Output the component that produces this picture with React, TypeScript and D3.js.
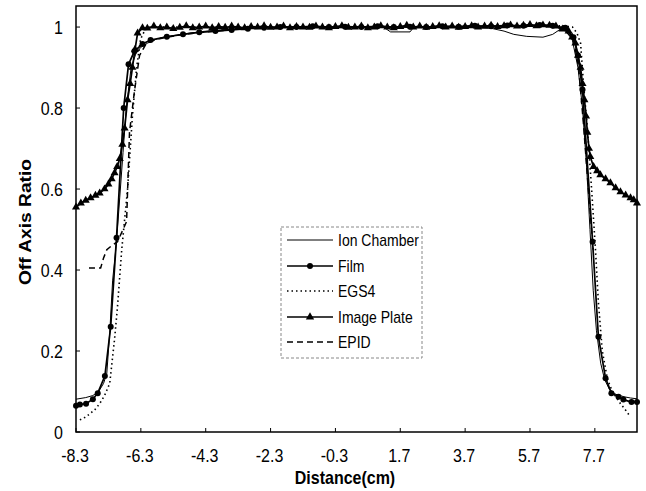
import React from 'react'
import * as d3 from 'd3'

// distance (cm) and off axis ratio for each detector
const ionX = [-8.3, -8.0, -7.78, -7.6, -7.45, -7.35, -7.26, -7.17, -7.05, -6.95, -6.85, -6.75, -6.6, -6.45, -6.3, -6.1, -5.9, -5.6, -5.2, -4.8, -4.4, -4.0, -3.6, -3.2, -2.8, -2.4, -2.0, -1.6, -1.2, -0.8, -0.4, 0.0, 0.4, 0.8, 1.2, 1.4, 2.0, 2.1, 2.5, 2.9, 3.3, 3.7, 4.1, 4.5, 4.9, 5.2, 5.6, 6.1, 6.4, 6.64, 6.8, 7.0, 7.18, 7.32, 7.45, 7.55, 7.65, 7.75, 7.88, 8.0, 8.15, 8.35, 8.6, 8.8, 9.0]
const ionY = [0.081, 0.085, 0.09, 0.1, 0.12, 0.145, 0.245, 0.375, 0.47, 0.58, 0.69, 0.8, 0.9, 0.935, 0.95, 0.96, 0.968, 0.975, 0.98, 0.985, 0.989, 0.992, 0.994, 0.996, 0.998, 0.999, 1.0, 1.0, 0.999, 1.0, 1.0, 0.998, 1.0, 1.0, 0.999, 0.988, 0.988, 0.998, 1.0, 0.999, 1.0, 1.0, 0.998, 0.997, 0.99, 0.982, 0.977, 0.975, 0.982, 0.995, 0.99, 0.97, 0.9, 0.8, 0.65, 0.5, 0.35, 0.25, 0.17, 0.13, 0.105, 0.093, 0.087, 0.084, 0.082]

const filmX = [-8.3, -8.18, -7.99, -7.78, -7.63, -7.41, -7.23, -7.05, -6.83, -6.68, -6.5, -6.25, -6.0, -5.5, -5.0, -4.5, -4.0, -3.5, -3.0, -2.5, -2.0, -1.5, -1.0, -0.5, 0, 0.5, 1.0, 1.5, 2.0, 2.5, 3.0, 3.5, 4.0, 4.5, 5.0, 5.5, 6.0, 6.4, 6.79, 7.04, 7.18, 7.32, 7.63, 7.81, 8.03, 8.21, 8.43, 8.58, 8.83, 9.0]
const filmY = [0.065, 0.068, 0.07, 0.081, 0.096, 0.138, 0.26, 0.48, 0.8, 0.908, 0.94, 0.958, 0.968, 0.976, 0.982, 0.987, 0.99, 0.993, 0.996, 0.998, 1.0, 1.0, 1.002, 1.0, 1.001, 1.0, 1.002, 1.0, 1.001, 1.0, 1.002, 1.001, 1.003, 1.002, 1.004, 1.003, 1.005, 1.003, 0.998, 0.975, 0.93, 0.845, 0.47, 0.235, 0.133, 0.096, 0.087, 0.08, 0.074, 0.074]

const egsX = [-8.18, -8.0, -7.87, -7.72, -7.57, -7.42, -7.26, -7.11, -7.02, -6.89, -6.71, -6.56, -6.43, -6.31, -6.16, -6.0, -5.0, -4.0, -3.0, -2.0, -1.0, 0, 1.0, 2.0, 3.0, 4.0, 5.0, 6.0, 6.7, 7.01, 7.15, 7.26, 7.35, 7.47, 7.6, 7.72, 7.81, 7.93, 8.09, 8.24, 8.49, 8.64, 8.8]
const egsY = [0.03, 0.037, 0.045, 0.055, 0.07, 0.09, 0.12, 0.23, 0.31, 0.45, 0.6, 0.78, 0.9, 0.97, 0.995, 1.0, 1.0, 1.0, 1.0, 1.0, 1.0, 1.0, 1.0, 1.0, 1.0, 1.0, 1.002, 1.003, 1.003, 1.0, 0.985, 0.96, 0.86, 0.75, 0.6, 0.45, 0.32, 0.2, 0.13, 0.1, 0.07, 0.055, 0.037]

const plateX = [-8.3, -8.15, -8.0, -7.85, -7.7, -7.57, -7.42, -7.3, -7.2, -7.11, -7.03, -6.95, -6.87, -6.8, -6.71, -6.63, -6.56, -6.48, -6.4, -6.25,
  -6.1, -5.9, -5.7, -5.5, -5.3, -5.1, -4.9, -4.7, -4.5, -4.3, -4.1, -3.9, -3.7, -3.5, -3.3, -3.1, -2.9, -2.7, -2.5, -2.3, -2.1, -1.9, -1.7, -1.5, -1.3, -1.1, -0.9, -0.7, -0.5, -0.3, -0.1,
  0.1, 0.3, 0.5, 0.7, 0.9, 1.1, 1.3, 1.5, 1.7, 1.9, 2.1, 2.3, 2.5, 2.7, 2.9, 3.1, 3.3, 3.5, 3.7, 3.9, 4.1, 4.3, 4.5, 4.7, 4.9, 5.1, 5.3, 5.5, 5.7, 5.9, 6.1, 6.3, 6.5, 6.7,
  6.89, 7.0, 7.1, 7.18, 7.26, 7.32, 7.38, 7.43, 7.47, 7.52, 7.56, 7.66, 7.77, 7.87, 8.03, 8.18, 8.34, 8.49, 8.65, 8.8, 8.9, 9.0]
const plateY = [0.555, 0.565, 0.572, 0.578, 0.584, 0.59, 0.6, 0.612, 0.625, 0.64, 0.655, 0.675, 0.71, 0.75, 0.82, 0.86, 0.9, 0.945, 0.985, 0.998,
  0.997, 1.002, 0.998, 1.0, 0.996, 0.999, 1.003, 0.998, 1.0, 1.002, 0.998, 1.001, 0.999, 1.002, 1.0, 0.998, 1.001, 1.0, 1.003, 0.999, 1.0, 1.002, 0.998, 1.001, 1.0, 0.999, 1.002, 1.0, 0.998, 1.001, 1.003,
  0.999, 1.0, 1.002, 0.998, 1.0, 1.003, 1.0, 0.998, 1.001, 1.004, 1.0, 1.002, 0.999, 1.001, 1.003, 1.0, 1.002, 0.999, 1.001, 1.003, 1.0, 1.002, 1.004, 1.001, 1.003, 1.005, 1.002, 1.004, 1.006, 1.003, 1.005, 1.004, 1.002, 0.995,
  0.99, 0.975, 0.96, 0.93, 0.9, 0.86, 0.82, 0.78, 0.74, 0.7, 0.68, 0.655, 0.645, 0.635, 0.625, 0.615, 0.603, 0.593, 0.585, 0.578, 0.573, 0.565]

const epidX = [-7.9, -7.54, -7.45, -7.35, -7.2, -7.02, -6.85, -6.74, -6.65, -6.5, -6.34, -6.13, -5.8, -5.0, -4.0, -3.0, -2.0, -1.0, 0, 1.0, 2.0, 3.0, 4.0, 5.0, 6.0, 6.5, 6.8, 7.04, 7.2, 7.35, 7.5, 7.65]
const epidY = [0.405, 0.405, 0.43, 0.45, 0.46, 0.47, 0.5, 0.52, 0.74, 0.84, 0.93, 0.96, 0.97, 0.982, 0.99, 0.997, 1.0, 1.0, 1.0, 1.0, 1.0, 1.001, 1.002, 1.003, 1.004, 1.002, 0.99, 0.97, 0.9, 0.76, 0.6, 0.45]

const xTicks = [-8.3, -6.3, -4.3, -2.3, -0.3, 1.7, 3.7, 5.7, 7.7]
const yTicks = [0, 0.2, 0.4, 0.6, 0.8, 1]
const seriesNames = ['Ion Chamber', 'Film', 'EGS4', 'Image Plate', 'EPID']

const FONT = '"Liberation Sans", Arial, sans-serif'
const SY = 1.2 // the scanned figure is stretched vertically

type Style = { width: number; dash?: string; marker?: 'circle' | 'triangle' }
const styles: Style[] = [
  { width: 1 },
  { width: 1.7, marker: 'circle' },
  { width: 1.6, dash: '1.5,3' },
  { width: 1.7, marker: 'triangle' },
  { width: 1.5, dash: '6,4' },
]

function App() {
  const width = 646
  const height = 491
  const left = 76, right = 637, top = 6, bottom = 432

  const x = d3.scaleLinear().domain([-8.3, 9.0]).range([left, right])
  const y = d3.scaleLinear().domain([0, 1.052]).range([bottom, top])

  const series = [
    { xs: ionX, ys: ionY },
    { xs: filmX, ys: filmY },
    { xs: egsX, ys: egsY },
    { xs: plateX, ys: plateY },
    { xs: epidX, ys: epidY },
  ]

  const line = d3
    .line<[number, number]>()
    .x(d => x(d[0]))
    .y(d => y(d[1]))

  const tri = d3.symbol().type(d3.symbolTriangle).size(28)()
  const triSmall = d3.symbol().type(d3.symbolTriangle).size(30)()

  const marker = (kind: string | undefined, cx: number, cy: number, key: any) => {
    if (kind === 'circle') return <circle key={key} cx={cx} cy={cy} r={3} fill="#000" />
    if (kind === 'triangle') return <path key={key} d={tri as string} transform={`translate(${cx},${cy})`} fill="#000" />
    return null
  }

  const legendRows = [240, 266, 291, 317, 342]

  return (
    <svg width={width} height={height} style={{ position: 'absolute', left: 0, top: 0, background: '#fff' }}>
      <rect width={width} height={height} fill="#fff" />

      {/* curves */}
      {series.map((s, i) => {
        const pts = s.xs.map((v, j) => [v, s.ys[j]] as [number, number])
        const st = styles[i]
        return (
          <g key={i}>
            <path d={line(pts) as string} fill="none" stroke="#000" strokeWidth={st.width} strokeDasharray={st.dash} />
            {st.marker && pts.map((p, j) => marker(st.marker, x(p[0]), y(p[1]), j))}
          </g>
        )
      })}

      {/* frame */}
      <rect x={left} y={top} width={right - left} height={bottom - top} fill="none" stroke="#000" strokeWidth={1.5} />

      {/* y axis */}
      {yTicks.map(t => (
        <g key={t}>
          <line x1={left} x2={left + 4} y1={y(t)} y2={y(t)} stroke="#000" strokeWidth={1} />
          <text transform={`translate(63,${y(t) + 7}) scale(1,${SY})`} textAnchor="end" fontFamily={FONT} fontSize={16} fill="#000">
            {d3.format('~g')(t)}
          </text>
        </g>
      ))}

      {/* x axis */}
      {xTicks.map(t => (
        <g key={t}>
          <line x1={x(t)} x2={x(t)} y1={bottom} y2={bottom - 4} stroke="#000" strokeWidth={1} />
          <text transform={`translate(${x(t) - 1},462) scale(1,${SY})`} textAnchor="middle" fontFamily={FONT} fontSize={16} fill="#000">
            {t.toFixed(1)}
          </text>
        </g>
      ))}

      {/* axis titles */}
      <text transform={`translate(345,484) scale(1,${SY})`} textAnchor="middle" fontFamily={FONT} fontSize={16} fontWeight="bold" fill="#000">
        Distance(cm)
      </text>
      <text transform={`translate(31,222) rotate(-90) scale(${SY},1)`} textAnchor="middle" fontFamily={FONT} fontSize={16} fontWeight="bold" fill="#000">
        Off Axis Ratio
      </text>

      {/* legend */}
      <rect x={281} y={227} width={141} height={131} fill="#fff" stroke="#888" strokeWidth={1} strokeDasharray="3,2" />
      {seriesNames.map((name, i) => {
        const st = styles[i]
        const ly = legendRows[i]
        return (
          <g key={name}>
            <line x1={287} x2={333} y1={ly} y2={ly} stroke="#000" strokeWidth={st.width} strokeDasharray={st.dash} />
            {st.marker === 'circle' && <circle cx={310} cy={ly} r={3} fill="#000" />}
            {st.marker === 'triangle' && <path d={triSmall as string} transform={`translate(310,${ly})`} fill="#000" />}
            <text transform={`translate(338,${ly + 6}) scale(1,${SY})`} fontFamily={FONT} fontSize={14} fill="#000">
              {name}
            </text>
          </g>
        )
      })}
    </svg>
  )
}

export default App
